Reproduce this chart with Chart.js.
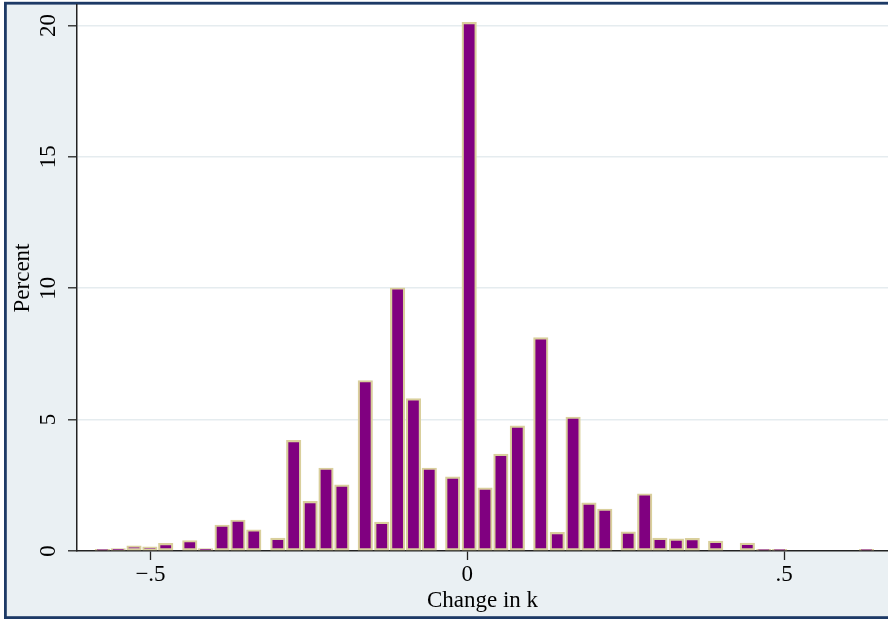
<!DOCTYPE html>
<html>
<head>
<meta charset="utf-8">
<script src="https://cdn.jsdelivr.net/npm/chart.js@4/dist/chart.umd.min.js"></script>
<style>
  html, body { margin: 0; padding: 0; background: #ffffff; }
  #wrap { width: 888px; height: 619px; }
</style>
</head>
<body>
<div id="wrap"><canvas id="hist" width="888" height="619"></canvas></div>
<script>
// Histogram of the change in k: bar centres and the percent of observations in each bar
const binCenters = [
  -0.576, -0.551, -0.526, -0.501, -0.476,
  -0.438, -0.413, -0.387, -0.362, -0.337,
  -0.299, -0.274, -0.248, -0.223, -0.198,
  -0.161, -0.135, -0.110, -0.085, -0.060,
  -0.023,  0.003,  0.028,  0.053,  0.079,
   0.116,  0.142,  0.167,  0.192,  0.217,
   0.254,  0.280,  0.304,  0.330,  0.355,
   0.392,  0.442,  0.468,  0.493,
   0.630
];
const percents = [
  0.06, 0.09, 0.20, 0.16, 0.29,
  0.40, 0.09, 0.99, 1.18, 0.81,
  0.49, 4.21, 1.89, 3.16, 2.52,
  6.49, 1.10, 10.02, 5.80, 3.16,
  2.82, 20.12, 2.40, 3.69, 4.76,
  8.12, 0.71, 5.10, 1.83, 1.60,
  0.73, 2.18, 0.49, 0.46, 0.48,
  0.38, 0.30, 0.06, 0.06,
  0.06
];
const xTickValues = [-0.5, 0, 0.5];
const xTickLabels = ['\u2212.5', '0', '.5'];
const yTickValues = [0, 5, 10, 15, 20];
const yTickLabels = ['0', '5', '10', '15', '20'];

const SERIF = "'Liberation Serif', 'DejaVu Serif', serif";
const FONT_SIZE = 23;

// Graph region: light bluish-gray surround, white plot region, navy frame
const framePlugin = {
  id: 'frame',
  beforeDraw(chart) {
    const { ctx, chartArea: a, width, height } = chart;
    ctx.save();
    ctx.fillStyle = '#ffffff';
    ctx.fillRect(0, 0, width, height);
    ctx.fillStyle = '#eaf0f3';
    ctx.fillRect(5, 3, width, height - 4);
    ctx.fillStyle = '#ffffff';
    ctx.fillRect(a.left, a.top, a.right - a.left, a.bottom - a.top);
    ctx.strokeStyle = '#1d3a66';
    ctx.lineWidth = 2.8;
    ctx.strokeRect(5.4, 3.2, width + 10, height - 1.4 - 3.2);
    ctx.restore();
  }
};

// Vertical-axis labels, written rotated so they read upwards
const yLabelPlugin = {
  id: 'yLabels',
  afterDraw(chart) {
    const { ctx } = chart;
    const y = chart.scales.y;
    ctx.save();
    ctx.fillStyle = '#000000';
    ctx.font = FONT_SIZE + 'px ' + SERIF;
    ctx.textAlign = 'center';
    ctx.textBaseline = 'alphabetic';
    yTickValues.forEach((v, i) => {
      ctx.save();
      ctx.translate(55, y.getPixelForValue(v));
      ctx.rotate(-Math.PI / 2);
      ctx.fillText(yTickLabels[i], 0, 0);
      ctx.restore();
    });
    ctx.restore();
  }
};

new Chart(document.getElementById('hist'), {
  type: 'bar',
  data: {
    datasets: [{
      data: binCenters.map((x, i) => ({ x: x, y: percents[i] })),
      backgroundColor: '#800080',
      borderColor: '#d9cf9c',
      borderWidth: 2.2,
      borderSkipped: false,
      barThickness: 14.5
    }]
  },
  options: {
    responsive: false,
    devicePixelRatio: 1,
    animation: false,
    layout: { padding: { left: 0, right: 0, top: 5, bottom: 0 } },
    plugins: { legend: { display: false }, tooltip: { enabled: false } },
    scales: {
      x: {
        type: 'linear',
        min: -0.616,
        max: 0.664,
        offset: false,
        afterBuildTicks: s => { s.ticks = xTickValues.map(v => ({ value: v })); },
        afterFit: s => { s.height = 68; },
        ticks: {
          callback: v => xTickLabels[xTickValues.indexOf(v)],
          font: { family: SERIF, size: FONT_SIZE },
          color: '#000000',
          padding: 1,
          maxRotation: 0,
          autoSkip: false
        },
        grid: {
          offset: false,
          drawOnChartArea: false,
          drawTicks: true,
          tickLength: 9,
          tickColor: '#222222',
          tickWidth: 1.3
        },
        border: { display: true, color: '#222222', width: 1.5 },
        title: {
          display: true,
          text: 'Change in k',
          font: { family: SERIF, size: FONT_SIZE },
          color: '#000000',
          padding: { top: 0, bottom: 4 }
        }
      },
      y: {
        type: 'linear',
        min: 0,
        max: 20.78,
        afterBuildTicks: s => { s.ticks = yTickValues.map(v => ({ value: v })); },
        afterFit: s => { s.width = 77; },
        ticks: { display: false },
        grid: {
          color: c => (c.tick && c.tick.value === 0) ? 'rgba(0,0,0,0)' : '#e5ecef',
          lineWidth: 1.6,
          drawTicks: true,
          tickLength: 9,
          tickColor: '#222222',
          tickWidth: 1.3
        },
        border: { display: true, color: '#222222', width: 1.5 },
        title: {
          display: true,
          text: 'Percent',
          font: { family: SERIF, size: FONT_SIZE },
          color: '#000000',
          padding: { top: 9.5, bottom: 0 }
        }
      }
    }
  },
  plugins: [framePlugin, yLabelPlugin]
});
</script>
</body>
</html>
